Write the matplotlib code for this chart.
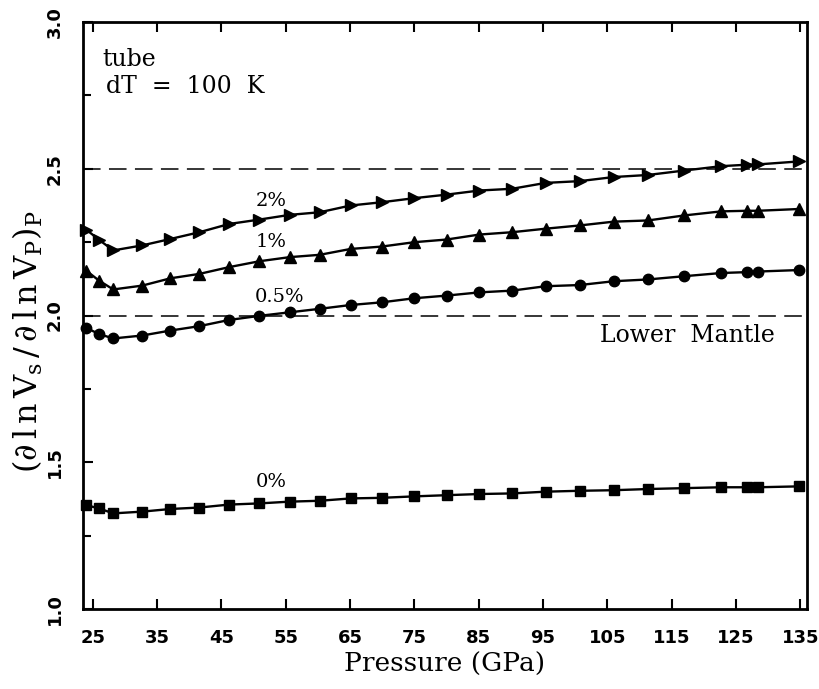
import numpy as np
import matplotlib
matplotlib.use("Agg")
import matplotlib.pyplot as plt
from matplotlib.ticker import MultipleLocator

# pressure (GPa) of the computed points
pressure = [24.0, 26.0, 28.2, 32.7, 37.1, 41.6, 46.2, 50.9, 55.6, 60.3,
            65.1, 69.9, 75.0, 80.0, 85.1, 90.2, 95.4, 100.7, 106.0, 111.3,
            116.9, 122.7, 126.7, 128.4, 134.7]

# dlnVs/dlnVp for different melt fractions
r_0 = [1.354, 1.343, 1.326, 1.332, 1.341, 1.346, 1.356, 1.360, 1.366, 1.369,
       1.377, 1.379, 1.384, 1.388, 1.392, 1.394, 1.400, 1.403, 1.405, 1.409,
       1.412, 1.415, 1.415, 1.415, 1.418]
r_05 = [1.958, 1.937, 1.922, 1.932, 1.949, 1.964, 1.985, 1.999, 2.011, 2.023,
        2.036, 2.045, 2.059, 2.068, 2.079, 2.085, 2.100, 2.104, 2.117, 2.123,
        2.134, 2.145, 2.148, 2.150, 2.155]
r_1 = [2.153, 2.119, 2.089, 2.102, 2.127, 2.142, 2.165, 2.185, 2.199, 2.207,
       2.227, 2.235, 2.250, 2.259, 2.276, 2.284, 2.296, 2.307, 2.320, 2.324,
       2.341, 2.355, 2.357, 2.357, 2.363]
r_2 = [2.293, 2.258, 2.222, 2.239, 2.261, 2.284, 2.312, 2.327, 2.343, 2.352,
       2.375, 2.386, 2.400, 2.412, 2.426, 2.432, 2.452, 2.458, 2.472, 2.479,
       2.494, 2.509, 2.514, 2.515, 2.525]

mantle_range = [2.0, 2.5]
xticks = [25, 35, 45, 55, 65, 75, 85, 95, 105, 115, 125, 135]

plt.rcParams["mathtext.fontset"] = "dejavuserif"
serif = "DejaVu Serif"
fig = plt.figure(figsize=(8.2, 6.89), dpi=100)
ax = fig.add_axes([0.1012, 0.116, 0.8828, 0.852])

for yv in mantle_range:
    ax.axhline(yv, color="black", lw=1.1, dashes=(11.5, 5.5), zorder=1)

ax.plot(pressure, r_0, "-s", color="black", lw=1.7, ms=6.5, clip_on=False)
ax.plot(pressure, r_05, "-o", color="black", lw=1.7, ms=7.5, clip_on=False)
ax.plot(pressure, r_1, "-^", color="black", lw=1.7, ms=8, clip_on=False)
ax.plot(pressure, r_2, "->", color="black", lw=1.7, ms=8, clip_on=False)

ax.text(52.75, 2.392, "2%", family=serif, fontsize=14, ha="center", va="center")
ax.text(52.75, 2.252, "1%", family=serif, fontsize=14, ha="center", va="center")
ax.text(54.0, 2.062, "0.5%", family=serif, fontsize=14, ha="center", va="center")
ax.text(52.75, 1.432, "0%", family=serif, fontsize=14, ha="center", va="center")
ax.text(26.5, 2.872, "tube", family=serif, fontsize=17, ha="left", va="center")
ax.text(27.0, 2.78, "dT  =  100  K", family=serif, fontsize=17, ha="left", va="center")
ax.text(131.0, 1.932, "Lower  Mantle", family=serif, fontsize=17, ha="right", va="center")

ax.set_xlim(23.5, 136)
ax.set_ylim(1.0, 3.0)
ax.set_xticks(xticks)
ax.yaxis.set_major_locator(MultipleLocator(0.5))
ax.yaxis.set_minor_locator(MultipleLocator(0.25))
ax.tick_params(which="both", direction="in", top=True, right=False, width=1.5)
ax.tick_params(which="major", length=7)
ax.tick_params(which="minor", length=6)
ax.tick_params(axis="x", pad=14)
ax.tick_params(axis="y", pad=14)
for lab in ax.get_xticklabels():
    lab.set_fontweight("bold")
    lab.set_fontsize(13)
for lab in ax.get_yticklabels():
    lab.set_fontweight("bold")
    lab.set_fontsize(13)
    lab.set_rotation(90)
    lab.set_va("center")
for s in ax.spines.values():
    s.set_linewidth(2.0)

ax.set_xlabel("Pressure (GPa)", family=serif, fontsize=19, labelpad=4)
ax.set_ylabel(r"$(\partial\,\mathrm{l\,n\,V_s}\,/\,\partial\,\mathrm{l\,n\,V_P})_\mathrm{P}$",
              fontsize=23)
ax.yaxis.set_label_coords(-0.053, 0.455)

fig.savefig("out.png", dpi=100)
